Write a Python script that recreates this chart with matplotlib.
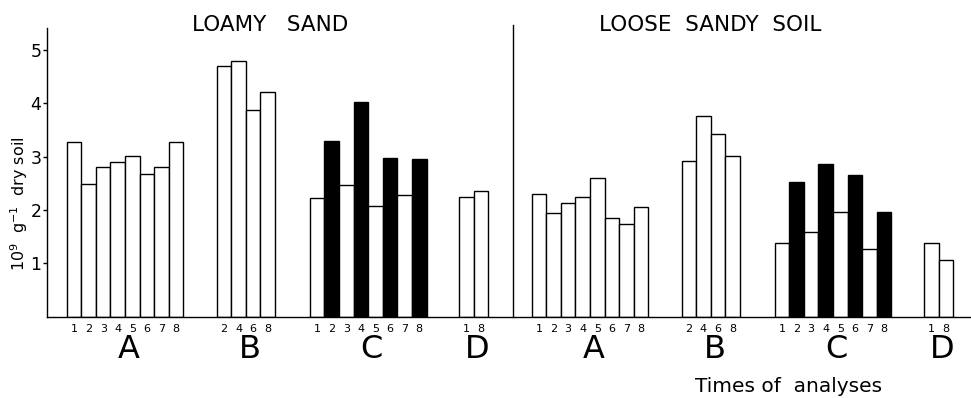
import matplotlib
matplotlib.use("Agg")
import matplotlib.pyplot as plt
from matplotlib.transforms import blended_transform_factory

# ---- data ----
soil_titles = ["LOAMY   SAND", "LOOSE  SANDY  SOIL"]
groups = ["A", "B", "C", "D"]
times_A = [1, 2, 3, 4, 5, 6, 7, 8]
times_B = [2, 4, 6, 8]
times_C = [1, 2, 3, 4, 5, 6, 7, 8]
times_D = [1, 8]
dark_times_C = [2, 4, 6, 8]

loamy_A = [3.28, 2.48, 2.81, 2.89, 3.01, 2.68, 2.80, 3.28]
loamy_B = [4.69, 4.80, 3.88, 4.21]
loamy_C = [2.23, 3.30, 2.47, 4.02, 2.08, 2.97, 2.28, 2.96]
loamy_D = [2.25, 2.36]

loose_A = [2.30, 1.95, 2.14, 2.25, 2.59, 1.85, 1.73, 2.05]
loose_B = [2.92, 3.77, 3.42, 3.02]
loose_C = [1.39, 2.53, 1.58, 2.86, 1.97, 2.66, 1.27, 1.96]
loose_D = [1.38, 1.06]

y_ticks = [1, 2, 3, 4, 5]
y_label = "10$^{9}$  g$^{-1}$  dry soil"
x_label = "Times of  analyses"

# ---- layout ----
group_starts = [1.35, 11.62, 18.0, 28.24]
panel_offset = 31.85
divider_x = 31.9
xmax = 63.3
ymax = 5.41
title_centers = [15.3, 13.6]

fig = plt.figure(figsize=(9.71, 3.98), dpi=100)
ax = fig.add_axes([0.0484, 0.2043, 0.9516, 0.7253])
ax.set_xlim(0, xmax)
ax.set_ylim(0, ymax)

lw = 1.0
data = [[loamy_A, loamy_B, loamy_C, loamy_D], [loose_A, loose_B, loose_C, loose_D]]
times = [times_A, times_B, times_C, times_D]

trans = blended_transform_factory(ax.transData, fig.transFigure)
for p, panel in enumerate(data):
    off = p * panel_offset
    for g, vals in enumerate(panel):
        t = times[g]
        xs = [off + group_starts[g] + i + 0.5 for i in range(len(vals))]
        colors = ["black" if (groups[g] == "C" and tt in dark_times_C) else "white" for tt in t]
        ax.bar(xs, vals, width=1.0, color=colors, edgecolor="black", linewidth=lw, zorder=2)
        for x, tt in zip(xs, t):
            ax.text(x, 0.173, str(tt), transform=trans, ha="center", va="center", fontsize=8)
        gc = off + group_starts[g] + len(vals) / 2 + 0.25
        ax.text(gc, 0.123, groups[g], transform=trans, ha="center", va="center", fontsize=23)
    ax.text(off + title_centers[p], 0.937, soil_titles[p], transform=trans,
            ha="center", va="center", fontsize=15.5)

ax.plot([divider_x, divider_x], [0, ymax + 0.05], color="black", linewidth=lw, clip_on=False)

for s in ["top", "right"]:
    ax.spines[s].set_visible(False)
for s in ["left", "bottom"]:
    ax.spines[s].set_linewidth(lw)
ax.set_xticks([])
ax.set_yticks(y_ticks)
ax.set_yticklabels([str(v) for v in y_ticks], fontsize=12.5)
ax.tick_params(axis="y", length=3, width=lw, pad=1)

fig.text(0.0195, 0.487, y_label, rotation=90, ha="center", va="center", fontsize=11.5)
fig.text(0.8126, 0.03, x_label, ha="center", va="center", fontsize=14.5)

fig.savefig("out.png", dpi=100)
